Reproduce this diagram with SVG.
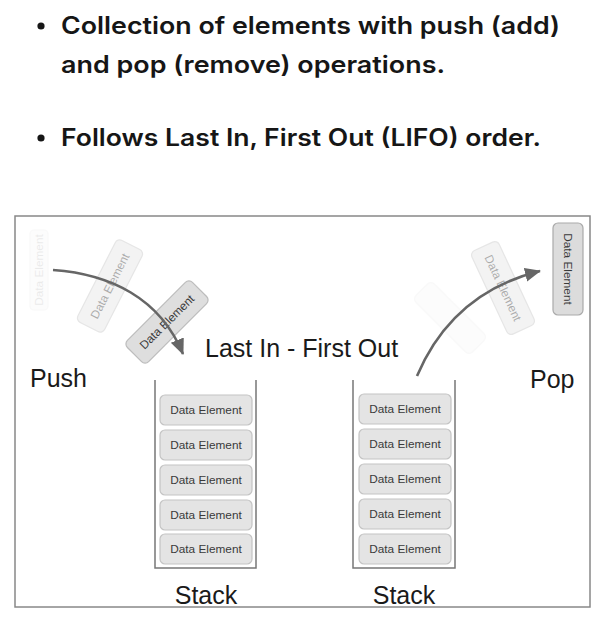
<svg xmlns="http://www.w3.org/2000/svg" width="606" height="617" viewBox="0 0 606 617">
<defs>
<style>
.bul{font-family:Inter,"Noto Sans","Liberation Sans",sans-serif;font-weight:600;font-size:24px;fill:#161616}
.lbl{font-family:"Liberation Sans",Arial,sans-serif;font-size:25px;fill:#1a1a1a}
.el{fill:#e4e4e4;stroke:#c4c4c4;stroke-width:1.2}
.et{font-family:"Liberation Sans",Arial,sans-serif;font-size:11.8px;fill:#3a3a3a;text-anchor:middle;dominant-baseline:central}
.stk{fill:none;stroke:#777;stroke-width:1.5}
.arr{fill:none;stroke:#666;stroke-width:2.6}
</style>
<marker id="ah" markerUnits="userSpaceOnUse" markerWidth="18" markerHeight="16" refX="15" refY="7" orient="auto">
<path d="M0 0 L16 7 L0 14 z" fill="#666"/>
</marker>
</defs>
<rect width="606" height="617" fill="#fff"/>
<g id="bullets">
<circle cx="41" cy="26" r="3.6" fill="#161616"/>
<text class="bul" x="61" y="34" textLength="499" lengthAdjust="spacingAndGlyphs">Collection of elements with push (add)</text>
<text class="bul" x="61" y="73" textLength="384" lengthAdjust="spacingAndGlyphs">and pop (remove) operations.</text>
<circle cx="41" cy="138" r="3.6" fill="#161616"/>
<text class="bul" x="61" y="146" textLength="480" lengthAdjust="spacingAndGlyphs">Follows Last In, First Out (LIFO) order.</text>
</g>
<g id="frame"><rect x="15" y="216" width="575" height="391" fill="none" stroke="#888" stroke-width="1.5"/></g>
<g id="ghosts">
<g opacity="0.1" transform="translate(39 270) rotate(-90)"><rect class="el" x="-40" y="-9" width="80" height="18" rx="4"/><text class="et" x="0" y="0" font-size="9">Data Element</text></g>
<g opacity="0.42" transform="translate(110 286) rotate(-63)"><rect class="el" x="-46" y="-15" width="92" height="30" rx="5"/><text class="et" x="0" y="0">Data Element</text></g>
<g transform="translate(167 322) rotate(-45)"><rect x="-46" y="-15" width="92" height="30" rx="5" fill="#dedede" stroke="#bcbcbc" stroke-width="1.2"/><text class="et" x="0" y="0">Data Element</text></g>
<g opacity="0.1" transform="translate(450 318) rotate(45)"><rect class="el" x="-40" y="-13" width="80" height="26" rx="5"/></g>
<g opacity="0.42" transform="translate(503 288) rotate(65)"><rect class="el" x="-46" y="-15" width="92" height="30" rx="5"/><text class="et" x="0" y="0">Data Element</text></g>
</g>
<g id="popped" transform="translate(568 269) rotate(90)"><rect x="-46" y="-15" width="92" height="30" rx="5" fill="#dcdcdc" stroke="#aaa" stroke-width="1.2"/><text class="et" x="0" y="0">Data Element</text></g>
<g id="connectors">
<path class="arr" d="M53 270 C110 274 160 298 183 354" marker-end="url(#ah)"/>
<path class="arr" d="M417 376 C440 322 480 286 540 271" marker-end="url(#ah)"/>
</g>
<g id="labels">
<text class="lbl" x="205" y="357">Last In - First Out</text>
<text class="lbl" x="30" y="387">Push</text>
<text class="lbl" x="530" y="388">Pop</text>
</g>
<g id="stack-left">
<path class="stk" d="M155 380 V568 H256 V380"/>
<rect class="el" x="160" y="395" width="92" height="30" rx="5"/><text class="et" x="206" y="410">Data Element</text>
<rect class="el" x="160" y="430" width="92" height="30" rx="5"/><text class="et" x="206" y="445">Data Element</text>
<rect class="el" x="160" y="465" width="92" height="30" rx="5"/><text class="et" x="206" y="480">Data Element</text>
<rect class="el" x="160" y="500" width="92" height="30" rx="5"/><text class="et" x="206" y="515">Data Element</text>
<rect class="el" x="160" y="534" width="92" height="30" rx="5"/><text class="et" x="206" y="549">Data Element</text>
<text class="lbl" x="206" y="604" text-anchor="middle">Stack</text>
</g>
<g id="stack-right">
<path class="stk" d="M353 380 V568 H455 V380"/>
<rect class="el" x="359" y="394" width="92" height="30" rx="5"/><text class="et" x="405" y="409">Data Element</text>
<rect class="el" x="359" y="429" width="92" height="30" rx="5"/><text class="et" x="405" y="444">Data Element</text>
<rect class="el" x="359" y="464" width="92" height="30" rx="5"/><text class="et" x="405" y="479">Data Element</text>
<rect class="el" x="359" y="499" width="92" height="30" rx="5"/><text class="et" x="405" y="514">Data Element</text>
<rect class="el" x="359" y="534" width="92" height="30" rx="5"/><text class="et" x="405" y="549">Data Element</text>
<text class="lbl" x="404" y="604" text-anchor="middle">Stack</text>
</g>
</svg>
